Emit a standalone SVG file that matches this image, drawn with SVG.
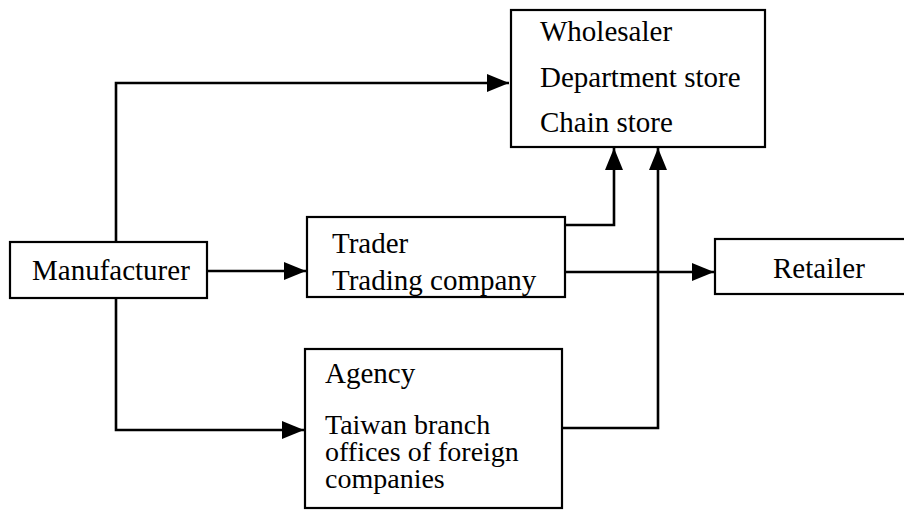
<svg xmlns="http://www.w3.org/2000/svg" width="904" height="510" viewBox="0 0 904 510">
<style>
.box{fill:#fff;stroke:#000;stroke-width:2.2}
.t{font-family:'Liberation Serif','Times New Roman','DejaVu Serif',serif;font-size:29px;fill:#000}
.s{font-size:28px}
.c{fill:none;stroke:#000;stroke-width:2.6}
</style>
<defs>
<marker id="ah" markerUnits="userSpaceOnUse" markerWidth="24" markerHeight="20" refX="22" refY="9" orient="auto">
<path d="M0,0 L22,9 L0,18 Z" fill="#000"/>
</marker>
</defs>
<rect width="904" height="510" fill="#fff"/>
<g id="connectors">
<path class="c" d="M116,242 V83 H509" marker-end="url(#ah)"/>
<path class="c" d="M207,271 H306" marker-end="url(#ah)"/>
<path class="c" d="M116,298 V430 H304" marker-end="url(#ah)"/>
<path class="c" d="M565,225 H614 V148" marker-end="url(#ah)"/>
<path class="c" d="M562,428 H658 V148" marker-end="url(#ah)"/>
<path class="c" d="M565,272 H714" marker-end="url(#ah)"/>
</g>
<g id="wholesaler">
<rect class="box" x="511" y="10" width="254" height="137"/>
<text class="t" x="540" y="41">Wholesaler</text>
<text class="t" x="540" y="87">Department store</text>
<text class="t" x="540" y="132">Chain store</text>
</g>
<g id="manufacturer">
<rect class="box" x="10" y="242" width="197" height="56"/>
<text class="t" x="32" y="280">Manufacturer</text>
</g>
<g id="trader">
<rect class="box" x="307" y="217" width="258" height="80"/>
<text class="t" x="332" y="253">Trader</text>
<text class="t" x="332" y="290">Trading company</text>
</g>
<g id="agency">
<rect class="box" x="305" y="349" width="257" height="159"/>
<text class="t" x="325" y="383">Agency</text>
<text class="t s" x="325" y="434">Taiwan branch</text>
<text class="t s" x="325" y="461">offices of foreign</text>
<text class="t s" x="325" y="488">companies</text>
</g>
<g id="retailer">
<rect class="box" x="715" y="239" width="200" height="55"/>
<text class="t" x="773" y="278">Retailer</text>
</g>
</svg>
